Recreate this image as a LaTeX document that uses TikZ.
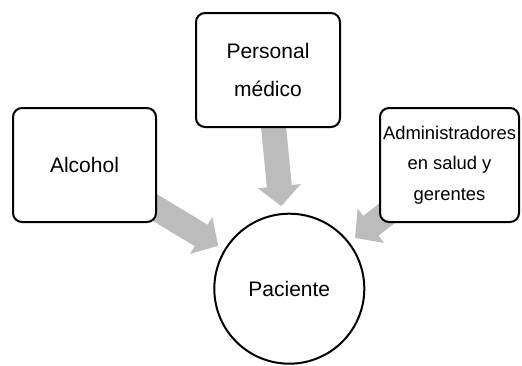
\documentclass[tikz,border=0pt]{standalone}
\usepackage{fontspec}
\setmainfont{Liberation Sans}
\usetikzlibrary{arrows.meta,backgrounds}
\definecolor{arrowgray}{RGB}{188,188,188}
\begin{document}
\begin{tikzpicture}[x=1pt,y=-1pt,
  box/.style={draw=black,line width=2pt,rounded corners=9pt,fill=white,
    inner sep=0pt,align=center,minimum height=114pt,
    font=\fontsize{21}{38}\selectfont},
  smallbox/.style={box,font=\fontsize{18.4}{30.5}\selectfont},
  patient/.style={draw=black,line width=2pt,circle,fill=white,inner sep=0pt,
    minimum size=150pt,font=\fontsize{21}{25}\selectfont},
  fat/.style={draw=arrowgray,line width=25pt,
    -{Triangle[length=20pt,width=42pt]},shorten >=7pt}]
\useasboundingbox (0,0) rectangle (522,365);
\node[box,minimum width=143pt] (alc) at (84.5,165) {Alcohol};
\node[box,minimum width=144pt] (per) at (268,70) {Personal\\médico};
\node[smallbox,minimum width=139pt] (adm) at (449.5,165) {Administradores\\en salud y\\gerentes};
\node[patient] (pac) at (289.3,288.7) {\raisebox{-4pt}{Paciente}};
\begin{pgfonlayer}{background}
\draw[fat] (alc.center) -- (pac);
\draw[fat] (per.center) -- (pac);
\draw[fat] (adm.center) -- (pac);
\end{pgfonlayer}
\end{tikzpicture}
\end{document}
